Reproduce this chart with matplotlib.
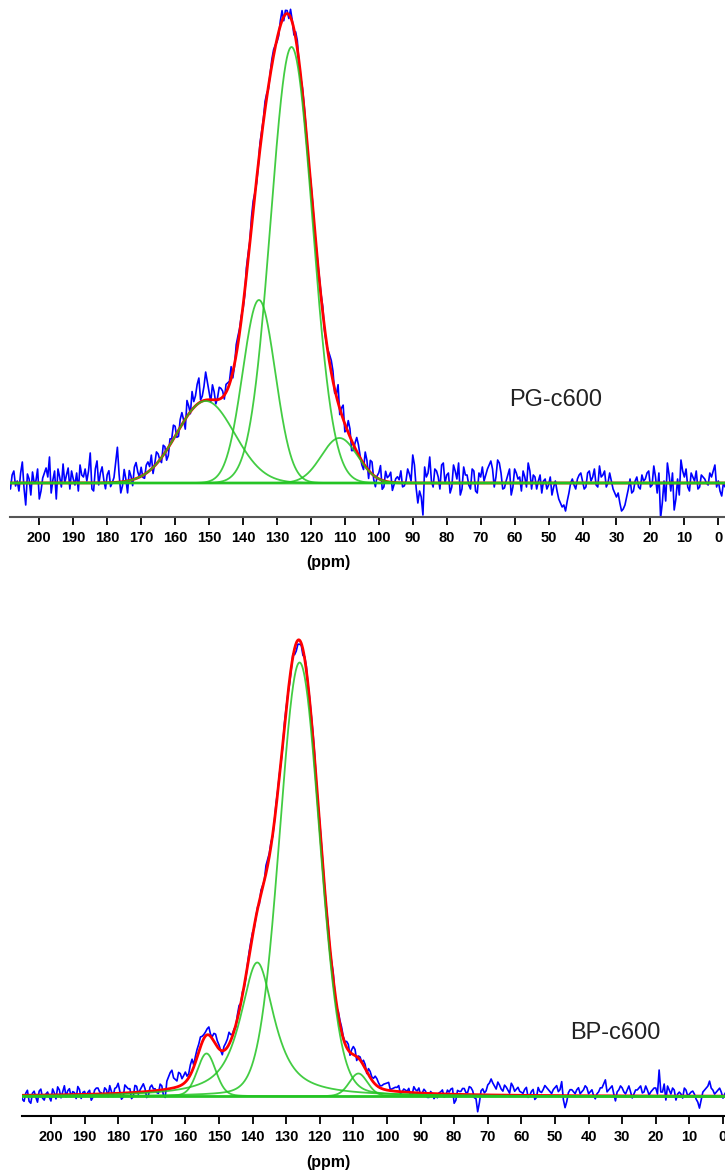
import numpy as np
import matplotlib
matplotlib.use('Agg')
import matplotlib.pyplot as plt

plt.rcParams['font.family'] = ['Liberation Sans', 'DejaVu Sans']

# ---- Deconvolution components: center (ppm), height, FWHM (ppm), Lorentzian fraction
pg_centers = [125.7, 135.3, 151.0, 111.6]
pg_heights = [436, 183, 82, 45]
pg_fwhm = [14.4, 11.3, 20.0, 12.5]
pg_eta = [0.0, 0.0, 0.0, 0.0]

bp_centers = [126.0, 138.6, 153.7, 108.5]
bp_heights = [434, 134, 43, 23]
bp_fwhm = [14.0, 12.0, 6.5, 6.5]
bp_eta = [0.1, 0.85, 0.2, 0.2]

# ---- Measured-minus-fit residual: whole-ppm points (209, 208, ... -2)
residual_start = 209
pg_residual = [
    3, 8, -3, -8, 21, -22, 4, 11, 2, -16, 5, 15, 26, 3, -16, 6, 19, 8, -6, 4,
    10, 18, 6, 2, 30, -8, 22, 10, 3, 8, -4, 5, 35, -11, 12, -12, 4, 12, 6, 9,
    -4, 10, 14, 2, 8, -5, 6, -8, 3, 10, -6, 12, -10, 8, 18, 10, 25, 5, 28, 8,
    15, -4, 12, 6, 8, 3, -6, 10, 4, -3, 8, 2, 10, -4, 6, 3, 4, 2, 6, -3,
    5, -4, 3, 8, -6, 8, -2, 4, -3, 3, -2, 2, 3, -3, 2, 12, -4, 18, 6, -8,
    12, -10, 5, 10, -4, 14, -8, 12, -10, 6, -9, 10, 6, -8, 4, 3, -4, 2, 9, 28,
    -5, -8, -32, 6, 26, -4, 12, -6, 20, 8, -10, 18, 4, -12, 16, 8, -6, 12, -10, 6,
    2, 14, 22, -4, 23, 10, -5, 8, -12, 14, 4, -8, 6, 20, -6, 6, 2, -10, 4, -2,
    -12, 2, -16, -24, -28, -10, 4, -6, 8, 2, -4, 12, 6, -2, 17, 8, -4, 10, -6, -14,
    -20, -26, -14, 4, -8, 6, -6, 2, 10, -4, 17, -10, -35, 2, 20, -8, -27, 4, 23, 6,
    -4, 10, 2, -6, 8, 4, -2, 6, 18, 2, -13, -4,
]
# half-ppm points (208.5, 207.5, ... -2.5)
pg_residual_half = [
    -6, 12, 2, 10, -5, 9, -12, 0, 14, -8, 10, 6, -10, 12, 14, -4, 0, 15, 12, -2,
    -8, 8, 14, 12, -6, 14, -2, 16, -6, 12, 0, 20, 8, -4, 2, 10, -6, 16, 0, -2,
    8, 4, -6, 12, 0, 10, -10, 6, 14, -4, 8, 2, 16, -2, 6, 20, 2, 14, 18, -2,
    8, 2, 10, -4, 6, 12, -2, 8, 4, -4, 6, 10, 2, -2, 4, 8, -3, 6, 2, -4,
    10, 4, -4, 2, 6, -3, 4, 2, -2, 4, 0, 3, 6, -2, 8, 10, 2, -6, 14, -2,
    8, -6, 14, 2, -6, 8, 12, -4, 2, 14, -6, 4, 10, -2, 6, 12, -3, 14, 2, 18,
    -20, -14, 16, 10, 2, 14, 6, 18, 0, 10, -4, 12, 20, -6, 8, -2, 14, -8, 10, 16,
    8, 18, 14, 6, 20, -6, 2, 14, -4, 10, 6, 12, -4, 12, 8, -6, 8, 2, -6, 6,
    -4, -8, -20, -22, -18, 0, -2, 4, 10, -6, 10, 2, 14, -4, 6, 12, 0, 2, -10, -10,
    -28, -22, -6, -10, 2, -4, 8, 4, 12, -2, 6, 10, -20, -18, 8, 10, -16, -12, 12, 14,
    -8, 6, 12, -4, 6, 0, 10, 12, -4, -8, 0, 6,
]
bp_residual = [
    2, -6, 5, -8, 4, -7, 6, -5, 3, -6, 2, 8, -3, 9, 4, -2, 2, 8, -4, 3,
    2, -6, 4, 6, 1, 6, -3, 2, 5, 10, -6, 8, 4, -6, 7, -2, 5, 3, -4, 6,
    2, -3, 4, -8, 12, 18, 8, 14, 6, 10, 4, 12, 6, 8, 6, 4, 8, 2, 10, 4,
    -4, 6, 12, 2, -2, 6, 3, -2, 4, 3, 0, -3, 2, 8, 3, -2, 4, 2, -3, 2,
    -4, 3, -8, -4, -6, 4, 2, 5, -2, 3, 2, 1, -2, 6, -3, 4, 2, 6, -3, 8,
    -4, 3, 5, -2, 6, 4, 7, 2, 5, 7, 1, 3, 4, -2, 3, 1, -3, 6, 2, -2,
    4, -4, 2, -5, -4, 2, -3, 4, 5, -9, 4, 3, 6, 2, 7, -3, -17, 4, 2, 10,
    16, 9, 13, 6, 10, 5, 12, 4, 8, 3, 6, -2, 4, -4, 8, 3, 10, 6, 2, 8,
    4, 14, -12, 3, 6, 2, 8, 4, 10, 2, 6, -3, 4, 8, 16, 6, 10, -5, 6, 8,
    2, 10, -2, 6, 8, 3, 10, 1, 6, 8, 26, 4, -4, 6, 8, -4, 4, -2, 6, 2,
    5, -3, -12, 4, 8, 15, 6, 4, 8, -2, 5, 3,
]
bp_residual_half = [
    -4, 2, -6, 2, -2, 4, -3, 1, -2, 6, -4, 5, 3, -2, 6, 3, -4, 5, 2, -2,
    4, -3, 6, 2, -2, 4, 8, -3, 6, 2, -4, 6, 4, -4, 6, 2, 8, -6, 4, 2,
    -2, 6, -6, 8, 16, 10, 6, 12, 8, 4, 10, 2, 8, 10, 4, 6, 2, 8, 6, 0,
    4, 8, 6, 2, 4, 0, -2, 2, 4, -2, 2, 4, 0, 6, 4, 0, 2, -2, 3, 0,
    -2, -6, -4, -2, 2, 0, 3, 4, -2, 2, 0, 4, 2, -2, 4, 5, 2, 6, 4, 6,
    2, 0, 4, 6, 3, 8, 4, 3, 6, 8, 2, 4, 6, 0, 2, 4, -2, 3, 5, 0,
    2, -4, 0, -2, 1, 4, -2, 2, 6, -6, 3, 6, 2, 8, 4, -4, -8, 6, 4, 12,
    12, 6, 10, 4, 8, 2, 9, 6, 4, 2, 8, 0, 6, -2, 4, 6, 8, 4, 6, 10,
    6, -4, -6, 6, 4, 6, 2, 6, 8, 4, 0, 2, 8, 12, 4, 8, 2, 4, 10, 4,
    6, 4, 2, 6, 10, 4, 6, 4, 8, 2, 4, 12, 10, 2, 6, 2, 2, 8, 0, 4,
    2, -6, -4, 6, 10, 8, 2, 6, 4, 2, 3, 6,
]

sample_names = ["PG-c600", "BP-c600"]
tick_values = list(range(0, 201, 10))
axis_label = "(ppm)"


def pseudo_voigt(x, c, h, w, eta):
    d2 = 4.0 * (x - c) ** 2 / w ** 2
    return h * ((1 - eta) * np.exp(-np.log(2) * d2) + eta / (1 + d2))


def fit_sum(x, comp):
    cs, hs, ws, es = comp
    return np.sum([pseudo_voigt(x, c, h, w, e) for c, h, w, e in zip(cs, hs, ws, es)], axis=0)


W, H = 725, 1172
fig = plt.figure(figsize=(W / 100, H / 100), dpi=100)


def px_axes(left, top, right, bottom):
    return fig.add_axes([left / W, 1 - bottom / H, (right - left) / W, (bottom - top) / H])


panels = [
    dict(comp=(pg_centers, pg_heights, pg_fwhm, pg_eta), res=pg_residual, half=pg_residual_half,
         box=(10, 5, 725, 517), xlim=(208.63, -1.97), ylim=(-34, 478),
         spine='#555555', name_xy=(556, 400), label_xy=(328, 563)),
    dict(comp=(bp_centers, bp_heights, bp_fwhm, bp_eta), res=bp_residual, half=bp_residual_half,
         box=(21.7, 600, 725, 1116), xlim=(208.7, -0.6), ylim=(-19.5, 496.5),
         spine='black', name_xy=(615, 1033), label_xy=(328, 1163)),
]

xf = np.linspace(212, -4, 3000)
for p, name in zip(panels, sample_names):
    ax = px_axes(*p['box'])
    cs, hs, ws, es = p['comp']
    comps = [pseudo_voigt(xf, c, h, w, e) for c, h, w, e in zip(cs, hs, ws, es)]
    total = np.sum(comps, axis=0)

    n = min(len(p['res']), len(p['half']))
    res = np.empty(2 * n)
    res[0::2] = np.array(p['res'][:n], dtype=float)
    res[1::2] = np.array(p['half'][:n], dtype=float)
    xb = residual_start - 0.5 * np.arange(2 * n)
    blue = fit_sum(xb, p['comp']) + res

    ax.plot(xb, blue, color='#0000ff', lw=1.2, zorder=1)
    ax.plot(xf, total, color='#ff0000', lw=2.0, zorder=2)
    for comp in comps:
        ax.plot(xf, comp, color='#22c422', lw=1.3, alpha=0.85, zorder=3)
    ax.plot(xf, np.zeros_like(xf), color='#22c422', lw=2.0, alpha=0.9, zorder=3)

    ax.set_xlim(*p['xlim'])
    ax.set_ylim(*p['ylim'])
    for s in ['top', 'left', 'right']:
        ax.spines[s].set_visible(False)
    ax.spines['bottom'].set_color(p['spine'])
    ax.spines['bottom'].set_linewidth(1.5)
    ax.set_yticks([])
    ax.set_xticks(tick_values)
    ax.set_xticklabels([str(t) for t in tick_values], fontweight='bold')
    ax.tick_params(axis='x', direction='out', length=5.8, width=1.3, pad=4.5,
                   labelsize=10.5, colors='black')
    ax.patch.set_alpha(0)

    fig.text(p['name_xy'][0] / W, 1 - p['name_xy'][1] / H, name, fontsize=17,
             color='#222222', ha='center', va='center')
    fig.text(p['label_xy'][0] / W, 1 - p['label_xy'][1] / H, axis_label, fontsize=11.5,
             fontweight='bold', ha='center', va='center')

fig.savefig('out.png', dpi=100)
